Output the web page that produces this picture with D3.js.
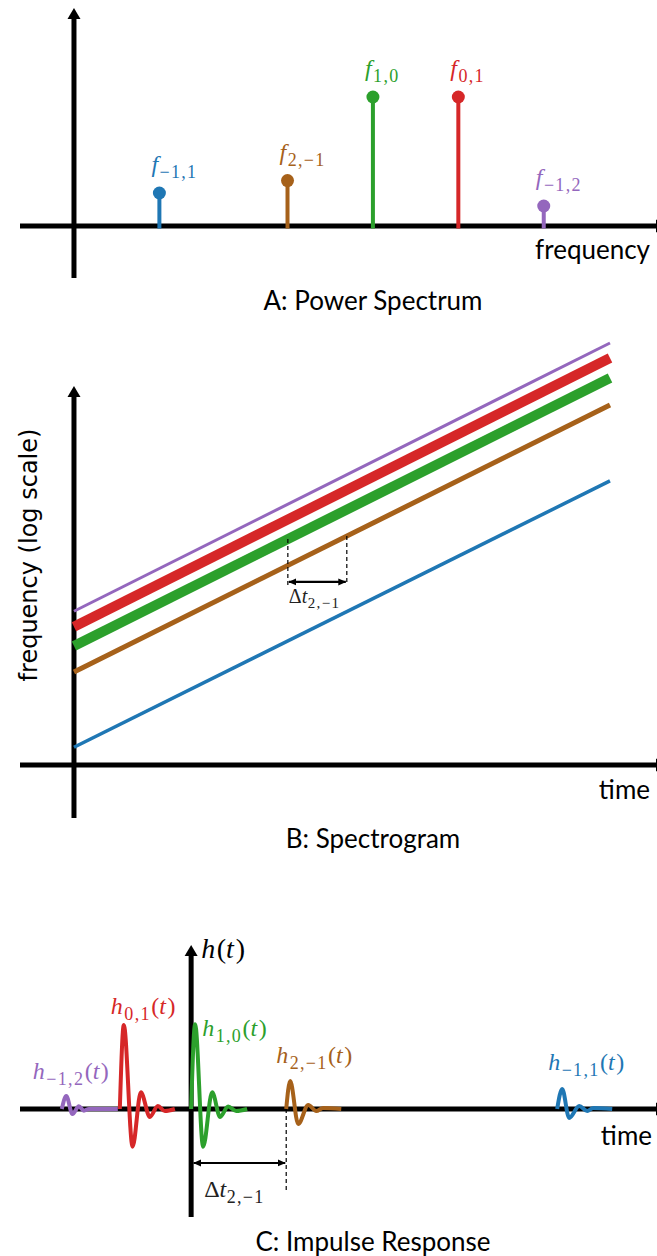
<!DOCTYPE html>
<html>
<head>
<meta charset="utf-8">
<script src="https://cdn.jsdelivr.net/npm/d3@7"></script>
<style>
  body { margin: 0; background: #fff; }
  text.sans { font-family: "Lato", "DejaVu Sans", sans-serif; }
  text.math, text.math tspan { font-family: "Liberation Serif", serif; }
</style>
</head>
<body>
<div id="chart"></div>
<script>
// ---- data (order: blue, brown, green, red, purple) ----
const modeIdx = ["\u22121,1", "2,\u22121", "1,0", "0,1", "\u22121,2"];
const modeColors = ["#1f77b4", "#a6611a", "#2ca02c", "#d62728", "#9467bd"];

// A: power spectrum
const peakFreqs = [1.0, 2.5, 3.5, 4.5, 5.5];
const peakPowers = [0.256, 0.352, 1.0, 1.0, 0.155];

// B: spectrogram tracks (frequency at t=0 and t=1, log scale)
const trackStart = [0.94, 2.5, 3.5, 4.5, 5.5];
const trackEnd = [29.9, 80.1, 113.7, 147.5, 179.2];
const dtTimes = [0.399, 0.509];   // green / brown crossing times
const dtLowFreq = 7.73;           // bottom of dashed markers
const dtArrowFreq = 8.05;

// C: impulse responses (onset time, then offsets / amplitudes)
const waveOnsets = [3.85, 1.0, 0, -0.75, -1.36];
const waveOffsets = [
  [0, 0.053, 0.126, 0.232, 0.316, 0.379, 0.579],
  [0, 0.042, 0.126, 0.232, 0.316, 0.389, 0.579],
  [0, 0.042, 0.126, 0.221, 0.305, 0.389, 0.474, 0.589],
  [0, 0.042, 0.134, 0.221, 0.316, 0.400, 0.474, 0.579],
  [0, 0.047, 0.111, 0.179, 0.232, 0.284, 0.589]
];
const waveAmps = [
  [0, 0.238, -0.107, 0.036, -0.024, 0.012, 0],
  [0, 0.333, -0.179, 0.048, -0.024, 0.012, 0],
  [0, 1.01, -0.45, 0.20, -0.095, 0.03, -0.024, 0],
  [0, 1.0, -0.45, 0.20, -0.095, 0.035, -0.024, 0],
  [0, 0.155, -0.06, 0.031, -0.021, 0, 0]
];
const dtC = 1.0;  // delay of h_{2,-1}

// ---- styles ----
const trackWidths = [3.5, 5, 10, 10, 3];

const W = 657, H = 1256;
const svg = d3.select("#chart").append("svg")
    .attr("width", W)
    .attr("height", H);

const defs = svg.append("defs");
defs.append("marker")
    .attr("id", "dtHead")
    .attr("viewBox", "0 -4 8 8")
    .attr("refX", 7.5).attr("refY", 0)
    .attr("markerWidth", 8).attr("markerHeight", 8)
    .attr("markerUnits", "userSpaceOnUse")
    .attr("orient", "auto-start-reverse")
    .append("path")
    .attr("d", "M0,-3.5L8,0L0,3.5Z")
    .attr("fill", "#000");

// axis line with a filled arrow head at (x2, y2)
function axisArrow(g, x1, y1, x2, y2) {
    const len = 11, hw = 6.5;
    const a = Math.atan2(y2 - y1, x2 - x1);
    const bx = x2 - len * Math.cos(a), by = y2 - len * Math.sin(a);
    g.append("line")
        .attr("x1", x1).attr("y1", y1).attr("x2", bx).attr("y2", by)
        .attr("stroke", "#000").attr("stroke-width", 5);
    const px = -Math.sin(a) * hw, py = Math.cos(a) * hw;
    g.append("path")
        .attr("d", `M${x2},${y2}L${bx + px},${by + py}L${bx - px},${by - py}Z`)
        .attr("fill", "#000");
}

// math label: main symbol, subscript, optional "(t)"
function mathLabel(g, x, y, sym, sub, withT, size, color, upright) {
    const t = g.append("text")
        .attr("class", "math")
        .attr("x", x).attr("y", y)
        .attr("fill", color)
        .style("font-size", size + "px");
    t.append("tspan").text(sym)
        .style("font-style", upright ? "normal" : "italic");
    if (upright) t.append("tspan").text("t").style("font-style", "italic");
    const sh = Math.round(size * 0.24);
    t.append("tspan").text(sub)
        .attr("dx", upright ? 0.5 : 1.5)
        .attr("dy", sh)
        .style("letter-spacing", "1.3px")
        .style("font-size", Math.round(size * 0.74) + "px");
    if (withT) {
        t.append("tspan").text("(").attr("dy", -sh).attr("dx", 0.5);
        t.append("tspan").text("t").style("font-style", "italic");
        t.append("tspan").text(")").attr("dx", 1.5);
    }
    return t;
}

function caption(g, x, y, txt, anchor) {
    g.append("text")
        .attr("class", "sans")
        .attr("x", x).attr("y", y)
        .attr("text-anchor", anchor)
        .style("font-size", "26px")
        .attr("fill", "#000")
        .text(txt);
}

// ================= A: Power Spectrum =================
const gA = svg.append("g");
const xA = d3.scaleLinear().domain([-0.632, 6.826]).range([20, 657]);
const yA = d3.scaleLinear().domain([-0.403, 1.69]).range([278, 8]);

axisArrow(gA, xA.range()[0], yA(0), 667, yA(0));
axisArrow(gA, xA(0), yA.range()[0], xA(0), yA.range()[1]);

gA.selectAll(".stem")
    .data(peakFreqs)
    .enter().append("line")
    .attr("x1", d => xA(d)).attr("x2", d => xA(d))
    .attr("y1", yA(0) + 2.5)
    .attr("y2", (d, i) => yA(peakPowers[i]))
    .attr("stroke", (d, i) => modeColors[i])
    .attr("stroke-width", 4);

gA.selectAll(".head")
    .data(peakFreqs)
    .enter().append("circle")
    .attr("cx", d => xA(d))
    .attr("cy", (d, i) => yA(peakPowers[i]))
    .attr("r", 6.5)
    .attr("fill", (d, i) => modeColors[i]);

peakFreqs.forEach((f, i) => {
    mathLabel(gA, xA(f) - 8, yA(peakPowers[i]) - 21, "f", modeIdx[i], false, 24, modeColors[i]);
});

caption(gA, 650, 259, "frequency", "end");
caption(gA, 373, 310, "A: Power Spectrum", "middle");

// ================= B: Spectrogram =================
const gB = svg.append("g");
const xB = d3.scaleLinear().domain([-0.1007, 1.0877]).range([20, 657]);
const yB = d3.scaleLog().domain([0.375, 101.2]).range([818, 387]);
const axisFreqB = 0.7465;

axisArrow(gB, xB.range()[0], yB(axisFreqB), 667, yB(axisFreqB));
axisArrow(gB, xB(0), yB.range()[0], xB(0), yB.range()[1] - 1);

const lineB = d3.line().x(d => xB(d[0])).y(d => yB(d[1]));
gB.selectAll(".track")
    .data(trackStart.map((s, i) => [[0, s], [1, trackEnd[i]]]))
    .enter().append("path")
    .attr("d", lineB)
    .attr("fill", "none")
    .attr("stroke", (d, i) => modeColors[i])
    .attr("stroke-width", (d, i) => trackWidths[i]);

// dashed markers where green (idx 2) and brown (idx 1) pass the same frequency
const fAt = (i, t) => trackStart[i] * Math.pow(trackEnd[i] / trackStart[i], t);
[[dtTimes[0], 2], [dtTimes[1], 1]].forEach(([t, i]) => {
    gB.append("line")
        .attr("x1", xB(t)).attr("x2", xB(t))
        .attr("y1", yB(fAt(i, t))).attr("y2", yB(dtLowFreq))
        .attr("stroke", "#000").attr("stroke-width", 1.2)
        .attr("stroke-dasharray", "4,3");
});
gB.append("line")
    .attr("x1", xB(dtTimes[0]) + 1).attr("x2", xB(dtTimes[1]) - 1)
    .attr("y1", yB(dtArrowFreq)).attr("y2", yB(dtArrowFreq))
    .attr("stroke", "#000").attr("stroke-width", 2.2)
    .attr("marker-start", "url(#dtHead)")
    .attr("marker-end", "url(#dtHead)");
mathLabel(gB, xB(dtTimes[0]) + 1, yB(dtArrowFreq) + 21, "\u0394", "2,\u22121", false, 20, "#222", true);

gB.append("text")
    .attr("transform", `translate(37, 555) rotate(-90)`)
    .attr("text-anchor", "middle")
    .style("font-family", "DejaVu Sans")
    .style("font-size", "24px")
    .text("frequency (log scale)");

caption(gB, 650, 799, "time", "end");
caption(gB, 373, 848, "B: Spectrogram", "middle");

// ================= C: Impulse Response =================
const gC = svg.append("g");
const xC = d3.scaleLinear().domain([-1.8, 4.9]).range([20, 657]);
const yC = d3.scaleLinear().domain([-1.286, 1.952]).range([1217, 945]);

axisArrow(gC, xC.range()[0], yC(0), 667, yC(0));
axisArrow(gC, xC(0), yC.range()[0], xC(0), yC.range()[1]);

const lineC = d3.line()
    .x(d => xC(d[0]))
    .y(d => yC(d[1]))
    .curve(d3.curveMonotoneX);

gC.selectAll(".wave")
    .data(waveOnsets.map((t0, i) => waveOffsets[i].map((o, j) => [t0 + o, waveAmps[i][j]])))
    .enter().append("path")
    .attr("d", lineC)
    .attr("fill", "none")
    .attr("stroke", (d, i) => modeColors[i])
    .attr("stroke-width", 4)
    .attr("stroke-linejoin", "round");

// label placement (pixel offsets from onset / axis)
const labelDx = [-9, -10, 11, -9, -29];
const labelDy = [-39, -46, -73, -95, -30];
waveOnsets.forEach((t0, i) => {
    mathLabel(gC, xC(t0) + labelDx[i], yC(0) + labelDy[i], "h", modeIdx[i], true, 24, modeColors[i]);
});

// h(t) axis label
const ht = gC.append("text")
    .attr("class", "math")
    .attr("x", xC(0) + 10).attr("y", 958)
    .style("font-size", "28px");
ht.append("tspan").text("h").style("font-style", "italic");
ht.append("tspan").text("(").attr("dx", 1.5);
ht.append("tspan").text("t").style("font-style", "italic");
ht.append("tspan").text(")").attr("dx", 2);

// delay marker
gC.append("line")
    .attr("x1", xC(dtC)).attr("x2", xC(dtC))
    .attr("y1", yC(0)).attr("y2", yC(-1.0))
    .attr("stroke", "#000").attr("stroke-width", 1.2)
    .attr("stroke-dasharray", "4,3");
gC.append("line")
    .attr("x1", xC(0) + 2.5).attr("x2", xC(dtC) - 1)
    .attr("y1", yC(-0.643)).attr("y2", yC(-0.643))
    .attr("stroke", "#000").attr("stroke-width", 2.2)
    .attr("marker-start", "url(#dtHead)")
    .attr("marker-end", "url(#dtHead)");
mathLabel(gC, xC(0) + 13, yC(-1.05), "\u0394", "2,\u22121", false, 24, "#222", true);

caption(gC, 652, 1145, "time", "end");
caption(gC, 373, 1251, "C: Impulse Response", "middle");
</script>
</body>
</html>
